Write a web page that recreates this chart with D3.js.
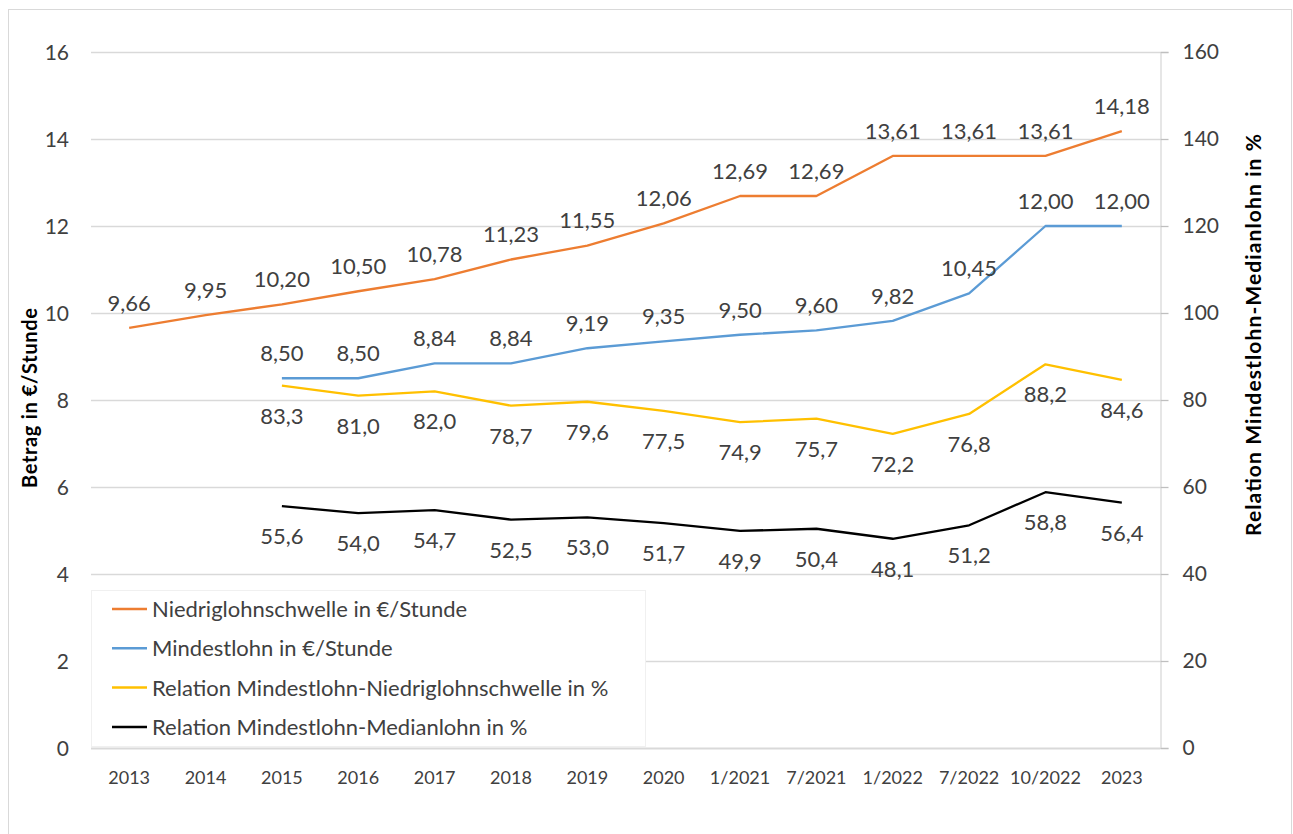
<!DOCTYPE html>
<html>
<head>
<meta charset="utf-8">
<script src="https://cdn.jsdelivr.net/npm/d3@7"></script>
<style>
  html, body { margin: 0; padding: 0; background: #fff; }
  svg { display: block; font-family: Lato, "Open Sans", sans-serif; }
</style>
</head>
<body>
<div id="chart"></div>
<script>
const categories = ["2013", "2014", "2015", "2016", "2017", "2018", "2019", "2020",
    "1/2021", "7/2021", "1/2022", "7/2022", "10/2022", "2023"];

// left axis, €/Stunde
const niedriglohn = [9.66, 9.95, 10.20, 10.50, 10.78, 11.23, 11.55, 12.06, 12.69, 12.69, 13.61, 13.61, 13.61, 14.18];
const mindestlohn = [null, null, 8.50, 8.50, 8.84, 8.84, 9.19, 9.35, 9.50, 9.60, 9.82, 10.45, 12.00, 12.00];
// right axis, %
const relNiedrig = [null, null, 83.3, 81.0, 82.0, 78.7, 79.6, 77.5, 74.9, 75.7, 72.2, 76.8, 88.2, 84.6];
const relMedian = [null, null, 55.6, 54.0, 54.7, 52.5, 53.0, 51.7, 49.9, 50.4, 48.1, 51.2, 58.8, 56.4];

const leftTicks = [0, 2, 4, 6, 8, 10, 12, 14, 16];
const rightTicks = [0, 20, 40, 60, 80, 100, 120, 140, 160];

const seriesNames = [
    "Niedriglohnschwelle in €/Stunde",
    "Mindestlohn in €/Stunde",
    "Relation Mindestlohn-Niedriglohnschwelle in %",
    "Relation Mindestlohn-Medianlohn in %"
];
const colors = ["#ed7d31", "#5b9bd5", "#ffc000", "#000000"];

const width = 1293, height = 834;
const plot = { left: 91, right: 1160, top: 52, bottom: 748 };

const svg = d3.select("#chart").append("svg")
    .attr("width", width)
    .attr("height", height);

// outer chart frame
svg.append("rect")
    .attr("x", 8.5).attr("y", 9.5)
    .attr("width", 1283).attr("height", 840)
    .attr("fill", "none")
    .attr("stroke", "#d9d9d9");

const x = d3.scaleBand().domain(categories).range([plot.left, plot.right]);
const xc = c => x(c) + x.bandwidth() / 2;
const yL = d3.scaleLinear().domain([0, 16]).range([plot.bottom, plot.top]);
const yR = d3.scaleLinear().domain([0, 160]).range([plot.bottom, plot.top]);

// gridlines
svg.append("g").selectAll("line")
    .data(leftTicks)
    .enter().append("line")
    .attr("x1", plot.left).attr("x2", plot.right)
    .attr("y1", d => Math.round(yL(d)) + 0.5)
    .attr("y2", d => Math.round(yL(d)) + 0.5)
    .attr("stroke", "#d9d9d9")
    .attr("stroke-width", d => d === 0 ? 2 : 1.3);

// left tick labels
svg.append("g").selectAll("text")
    .data(leftTicks)
    .enter().append("text")
    .attr("x", 69)
    .attr("y", d => yL(d))
    .attr("dy", "0.36em")
    .attr("text-anchor", "end")
    .attr("fill", "#404040")
    .attr("font-size", "21px")
    .text(d => d);

// right axis
const rightAxis = d3.axisRight(yR).tickValues(rightTicks).tickSize(8).tickPadding(14);
const ra = svg.append("g")
    .attr("transform", `translate(${plot.right + 0.5},0)`)
    .call(rightAxis);
ra.select(".domain").attr("stroke", "#d9d9d9").attr("stroke-width", 1.3);
ra.selectAll(".tick line").attr("stroke", "#bfbfbf").attr("stroke-width", 1.3);
ra.selectAll(".tick text")
    .attr("fill", "#404040")
    .attr("font-size", "21px")
    .attr("font-family", "Lato, 'Open Sans', sans-serif");

// x labels
svg.append("g").selectAll("text")
    .data(categories)
    .enter().append("text")
    .attr("x", d => xc(d))
    .attr("y", 778)
    .attr("dy", "0.36em")
    .attr("text-anchor", "middle")
    .attr("fill", "#404040")
    .attr("font-size", "18px")
    .text(d => d);

// axis titles
svg.append("text")
    .attr("transform", "translate(30,398) rotate(-90)")
    .attr("text-anchor", "middle")
    .attr("dy", "0.36em")
    .attr("font-size", "20px")
    .attr("font-weight", "bold")
    .attr("fill", "#000")
    .attr("textLength", 180)
    .text("Betrag in €/Stunde");

svg.append("text")
    .attr("transform", "translate(1253,335) rotate(-90)")
    .attr("text-anchor", "middle")
    .attr("dy", "0.36em")
    .attr("font-size", "21px")
    .attr("font-weight", "bold")
    .attr("fill", "#000")
    .attr("textLength", 402)
    .text("Relation Mindestlohn-Medianlohn in %");

// legend box (covers lower gridlines)
const legend = svg.append("g");
legend.append("rect")
    .attr("x", 91.5).attr("y", 590.5)
    .attr("width", 554).attr("height", 156)
    .attr("fill", "#fff")
    .attr("stroke", "#f0f0f0");

// series
const series = [
    { values: niedriglohn, y: yL, fmt: d => d.toFixed(2).replace(".", ","), above: true },
    { values: mindestlohn, y: yL, fmt: d => d.toFixed(2).replace(".", ","), above: true },
    { values: relNiedrig, y: yR, fmt: d => d.toFixed(1).replace(".", ","), above: false },
    { values: relMedian, y: yR, fmt: d => d.toFixed(1).replace(".", ","), above: false }
];

series.forEach((s, i) => {
    const pts = categories.map((c, j) => ({ c: c, v: s.values[j] }));
    const line = d3.line()
        .defined(d => d.v !== null)
        .x(d => xc(d.c))
        .y(d => s.y(d.v));

    svg.append("path")
        .datum(pts)
        .attr("d", line)
        .attr("fill", "none")
        .attr("stroke", colors[i])
        .attr("stroke-width", 2.3)
        .attr("stroke-linejoin", "round");

    svg.append("g").selectAll("text")
        .data(pts.filter(d => d.v !== null))
        .enter().append("text")
        .attr("x", d => xc(d.c))
        .attr("y", d => s.y(d.v) + (s.above ? -25 : 30))
        .attr("dy", "0.36em")
        .attr("text-anchor", "middle")
        .attr("fill", "#404040")
        .attr("font-size", "22px")
        .text(d => s.fmt(d.v));
});

// legend entries
seriesNames.forEach((name, i) => {
    const ly = 609 + i * 39.3;
    legend.append("line")
        .attr("x1", 112).attr("x2", 147)
        .attr("y1", ly).attr("y2", ly)
        .attr("stroke", colors[i])
        .attr("stroke-width", 2.5);
    legend.append("text")
        .attr("x", 152)
        .attr("y", ly)
        .attr("dy", "0.36em")
        .attr("fill", "#404040")
        .attr("font-size", "22px")
        .text(name);
});
</script>
</body>
</html>
